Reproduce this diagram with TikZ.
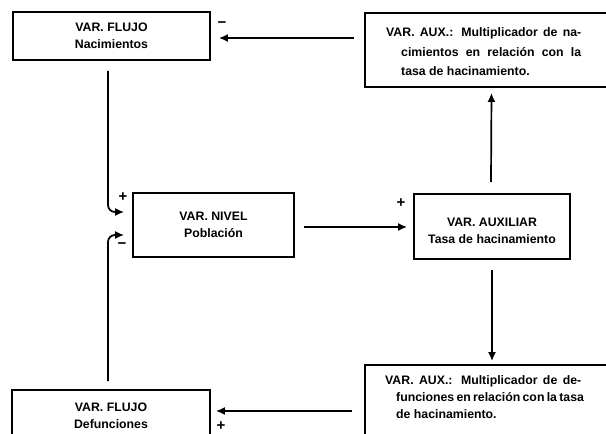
\documentclass[tikz,border=0pt]{standalone}
\usepackage{fontspec}
\setmainfont{Liberation Sans}
\usetikzlibrary{arrows.meta}
\begin{document}
\begin{tikzpicture}[x=1pt,y=-1pt,
  box/.style={draw, line width=1.8pt, inner sep=0pt, align=center,
    font=\bfseries\fontsize{12.3}{17}\selectfont},
  lbl/.style={inner sep=0pt, align=center, font=\bfseries\fontsize{12.3}{17}\selectfont},
  para/.style={inner sep=0pt, align=left, anchor=west},
  sign/.style={inner sep=0pt, font=\bfseries\fontsize{15}{15}\selectfont},
  arr/.style={line width=1.7pt, -{Latex[length=9pt,width=8pt]}},
]
\useasboundingbox (0,0) rectangle (606,434);
\clip (0,0) rectangle (606,434);

% boxes
\node[box, minimum width=197, minimum height=48] (nac) at (111.5,36) {VAR. FLUJO\\Nacimientos};
\node[box, minimum width=255, minimum height=74] (aux1) at (492.5,50) {};
\node[box, minimum width=161, minimum height=64] (pob) at (213.5,225) {VAR. NIVEL\\Población};
\node[box, minimum width=156, minimum height=65] (tasa) at (492,226.5) {};
\node[box, minimum width=198, minimum height=60] (def) at (111,420) {};
\node[box, minimum width=255, minimum height=80] (aux2) at (492.5,405) {};

% texts inside boxes
\node[lbl] (tasatxt) at (492,231) {VAR. AUXILIAR\\Tasa de hacinamiento};
\node[lbl] (deftxt) at (111,415.5) {VAR. FLUJO\\Defunciones};
\node[para, font=\bfseries\fontsize{12.3}{19.5}\selectfont] (aux1txt) at (386,52)
  {\makebox[195pt][s]{VAR. AUX.: Multiplicador de na-}\\
   \hspace*{15pt}\makebox[180pt][s]{cimientos en relación con la}\\
   \hspace*{15pt}tasa de hacinamiento.};
\node[para, font=\bfseries\fontsize{12.3}{17}\selectfont] (aux2txt) at (385,397)
  {\makebox[196pt][s]{VAR. AUX.: Multiplicador de de-}\\
   \hspace*{11pt}\makebox[185pt][s]{funciones en relación con la tasa}\\
   \hspace*{11pt}de hacinamiento.};

% connectors
\draw[arr] ([shift={(-10,-12)}]aux1.west) -- ([shift={(8,2)}]nac.east);
\draw[arr] ([shift={(-1,-11)}]tasa.north) -- ([shift={(-1,5)}]aux1.south);
\draw[arr] ([shift={(9,2)}]pob.east) -- ([shift={(-6,0.5)}]tasa.west);
\draw[arr] ([shift={(0,10)}]tasa.south) -- ([shift={(-0.5,-3)}]aux2.north);
\draw[arr] ([shift={(-12,6)}]aux2.west) -- ([shift={(5,-9)}]def.east);
\draw[arr, rounded corners=7pt] ([shift={(-3.5,10)}]nac.south) |- ([shift={(-8,-13)}]pob.west);
\draw[arr, rounded corners=7pt] ([shift={(-3,-8)}]def.north) |- ([shift={(-8,10)}]pob.west);

% polarity signs
\node[sign] (s1) at (222,25) {−};
\node[sign] (s2) at (123,197) {+};
\node[sign] (s3) at (122,246) {−};
\node[sign] (s4) at (221,426) {+};
\node[sign] (s5) at (401,203) {+};
\end{tikzpicture}
\end{document}
